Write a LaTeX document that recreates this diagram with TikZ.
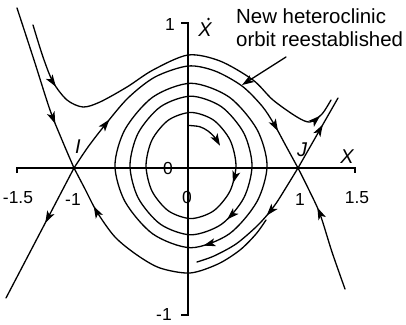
\documentclass[tikz,border=0pt]{standalone}
\usepackage{fontspec}
\setmainfont{Liberation Sans}
\usetikzlibrary{arrows.meta,decorations.markings}
\tikzset{
  tipA/.tip={Stealth[length=12bp,width=8bp,inset=3bp]},
  curve/.style={line width=1.3bp, line join=round, line cap=round},
  axisline/.style={line width=1.1bp},
  num/.style={font=\fontsize{17.5}{19}\selectfont, inner sep=0pt},
  var/.style={font=\fontsize{20}{22}\selectfont\itshape, inner sep=0pt},
  note/.style={font=\fontsize{20.5}{23}\selectfont, inner sep=0pt, anchor=base west},
  arrowone/.style={postaction={decorate}, decoration={markings, mark=at position #1 with {\arrow{tipA}}}},
  arrowtwo/.style 2 args={postaction={decorate}, decoration={markings, mark=at position #1 with {\arrow{tipA}}, mark=at position #2 with {\arrow{tipA}}}},
}
\begin{document}
\begin{tikzpicture}[x=1bp,y=-1bp]
\useasboundingbox (0,0) rectangle (406,325);
% saddle points
\coordinate (I) at (74,168);
\coordinate (J) at (298,168);
% axes
\draw[axisline] (17,173) -- (17,168) -- (355,168) -- (355,173);
\draw[axisline] (181,23) -- (188,23) -- (188,315) -- (181,315);
% axis labels
\node[num] (m15) at (18,198) {-1.5};
\node[num] (m1) at (73,199) {-1};
\node[num] (p1) at (300,199) {1};
\node[num] (p15) at (357,198) {1.5};
\node[num] (zx) at (168,168) {0};
\node[num] (zy) at (187,197) {0};
\node[num] (ty) at (170,24) {1};
\node[num] (by) at (164,314) {-1};
\node[var] (xl) at (347,157) {X};
\node[var] (xdot) at (205,30) {X};
\fill ([xshift=3.5bp,yshift=4bp]xdot.north) circle (1.4bp);
\node[var] (il) at (78,147) {I};
\node[var] (jl) at (302,150) {J};
% closed orbits
\draw[curve, arrowone=0.23] plot[smooth cycle] coordinates {(191,112.45) (213.49,120.06) (229.95,139.85) (235.97,165.5) (229.95,191.16) (213.49,210.94) (191,218.55) (168.51,210.94) (152.05,191.16) (146.03,165.5) (152.05,139.85) (168.51,120.06)};
\draw[curve, arrowone=0.32] plot[smooth cycle] coordinates {(191,96.18) (221.51,106.76) (243.84,133.13) (252.02,165.5) (243.84,197.87) (221.51,224.24) (191,234.82) (160.49,224.24) (138.16,197.87) (129.98,165.5) (138.16,133.13) (160.49,106.76)};
\draw[curve, arrowone=0.39] plot[smooth cycle] coordinates {(191,83.28) (229.03,96.96) (256.86,129.18) (267.05,165.5) (256.86,201.82) (229.03,234.04) (191,247.72) (152.97,234.04) (125.14,201.82) (114.95,165.5) (125.14,129.18) (152.97,96.96)};
% inner arc
\draw[curve, -{tipA}] plot[smooth] coordinates {(188.08,125.39) (199.67,126.66) (207.75,130.83) (214.69,137.36) (220.01,145.72)};
% heteroclinic orbit I -> J
\draw[curve, arrowtwo={60bp}{-42bp}] plot[smooth] coordinates {(I) (88,147) (105,125) (128,98) (155,77) (188,66) (215,71) (242,86) (262,106) (274,124) (286,146) (J)};
% outer orbit
\draw[curve, arrowtwo={66bp}{374bp}] plot[smooth] coordinates {(33,25) (43,57) (53,82) (67,100) (83,107) (100,102) (127,87) (153,70) (188,55) (220,61) (253,80) (273,100) (297,117) (310,122) (322,114) (331,100)};
% manifolds of I
\draw[curve, arrowone={122bp}] plot[smooth] coordinates {(17,8) (34,60) (50,110) (62,140) (I)};
\coordinate (ild) at (6,298);
\draw[curve, arrowone={62bp}] (I) -- (ild);
\draw[curve, arrowone={-43bp}] plot[smooth] coordinates {(266,220) (256,234) (240,250) (218,264) (190,273) (160,268) (137,255) (115,237) (97,212) (85,189) (I)};
% manifolds of J
\coordinate (jur) at (338,98);
\draw[curve, arrowone={50bp}] (J) -- (jur);
\draw[curve, arrowone={86bp}] plot[smooth] coordinates {(345,289) (332,252) (320,214) (309,190) (J)};
\draw[curve, arrowone={57bp}] plot[smooth] coordinates {(J) (287,186) (277,202) (268,214) (256,227) (236,244) (214,256) (197,262)};
% annotation
\node[note] (n1) at (236,23) {New heteroclinic};
\node[note] (n2) at (236,46.5) {orbit reestablished};
\coordinate (as) at (286,57);
\coordinate (at) at (242,85);
\draw[curve, -{tipA}] (as) -- (at);
\end{tikzpicture}
\end{document}
